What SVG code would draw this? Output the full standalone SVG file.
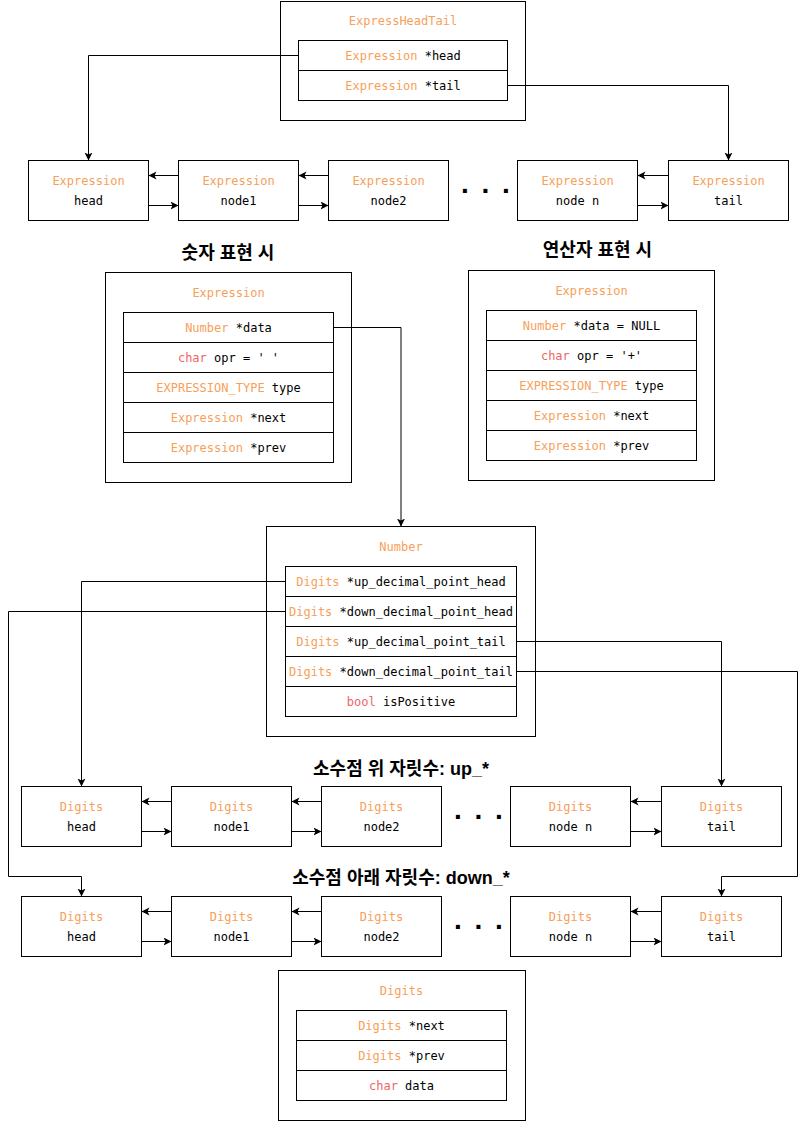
<svg xmlns="http://www.w3.org/2000/svg" width="806" height="1121" viewBox="0 0 806 1121">
<style>
rect{fill:#fff;stroke:#000;stroke-width:1}
.m{font-family:"DejaVu Sans Mono",monospace;font-size:12px;fill:#000;text-anchor:middle}
.o{fill:#F7A05A}
.r{fill:#EE6666}
.t{font-family:"Liberation Sans","Noto Sans CJK KR",sans-serif;font-size:18px;font-weight:bold;fill:#000;text-anchor:middle}
.d{font-family:"Liberation Sans",sans-serif;font-size:28px;font-weight:bold;letter-spacing:12.7px;fill:#000}
.c path{fill:none;stroke:#000;stroke-width:1;marker-end:url(#a)}
</style>
<defs>
<marker id="a" markerUnits="userSpaceOnUse" markerWidth="10" markerHeight="10" refX="8" refY="4" orient="auto">
<path d="M0,0 L8,4 L0,8 L2,4 z" fill="#000" stroke="none"/>
</marker>
</defs>

<g id="expressheadtail">
<rect x="280.5" y="1.5" width="245" height="119"/>
<text class="m" x="403" y="25"><tspan class="o">ExpressHeadTail</tspan></text>
<rect x="298.5" y="40.5" width="209" height="30"/>
<rect x="298.5" y="70.5" width="209" height="30"/>
<text class="m" x="403" y="60"><tspan class="o">Expression</tspan> *head</text>
<text class="m" x="403" y="90"><tspan class="o">Expression</tspan> *tail</text>
</g>

<g id="expr-head"><rect x="28.5" y="160.5" width="120" height="60"/><text class="m" x="88.5" y="185"><tspan class="o">Expression</tspan></text><text class="m" x="88.5" y="205">head</text></g>
<g id="expr-node1"><rect x="178.5" y="160.5" width="120" height="60"/><text class="m" x="238.5" y="185"><tspan class="o">Expression</tspan></text><text class="m" x="238.5" y="205">node1</text></g>
<g id="expr-node2"><rect x="328.5" y="160.5" width="120" height="60"/><text class="m" x="388.5" y="185"><tspan class="o">Expression</tspan></text><text class="m" x="388.5" y="205">node2</text></g>
<g id="expr-dots"><text class="d" x="461" y="193">...</text></g>
<g id="expr-noden"><rect x="517.5" y="160.5" width="120" height="60"/><text class="m" x="577.5" y="185"><tspan class="o">Expression</tspan></text><text class="m" x="577.5" y="205">node n</text></g>
<g id="expr-tail"><rect x="668.5" y="160.5" width="120" height="60"/><text class="m" x="728.5" y="185"><tspan class="o">Expression</tspan></text><text class="m" x="728.5" y="205">tail</text></g>

<g id="title-number"><text class="t" x="228" y="259">숫자 표현 시</text></g>
<g id="title-operator"><text class="t" x="597.5" y="256">연산자 표현 시</text></g>

<g id="expression-number">
<rect x="105.5" y="272.5" width="246" height="210"/>
<text class="m" x="228.5" y="297"><tspan class="o">Expression</tspan></text>
<rect x="123.5" y="312.5" width="210" height="30"/>
<rect x="123.5" y="342.5" width="210" height="30"/>
<rect x="123.5" y="372.5" width="210" height="30"/>
<rect x="123.5" y="402.5" width="210" height="30"/>
<rect x="123.5" y="432.5" width="210" height="30"/>
<text class="m" x="228.5" y="332"><tspan class="o">Number</tspan> *data</text>
<text class="m" x="228.5" y="362"><tspan class="r">char</tspan> opr = ' '</text>
<text class="m" x="228.5" y="392"><tspan class="o">EXPRESSION_TYPE</tspan> type</text>
<text class="m" x="228.5" y="422"><tspan class="o">Expression</tspan> *next</text>
<text class="m" x="228.5" y="452"><tspan class="o">Expression</tspan> *prev</text>
</g>

<g id="expression-operator">
<rect x="468.5" y="270.5" width="246" height="210"/>
<text class="m" x="591.5" y="295"><tspan class="o">Expression</tspan></text>
<rect x="486.5" y="310.5" width="210" height="30"/>
<rect x="486.5" y="340.5" width="210" height="30"/>
<rect x="486.5" y="370.5" width="210" height="30"/>
<rect x="486.5" y="400.5" width="210" height="30"/>
<rect x="486.5" y="430.5" width="210" height="30"/>
<text class="m" x="591.5" y="330"><tspan class="o">Number</tspan> *data = NULL</text>
<text class="m" x="591.5" y="360"><tspan class="r">char</tspan> opr = '+'</text>
<text class="m" x="591.5" y="390"><tspan class="o">EXPRESSION_TYPE</tspan> type</text>
<text class="m" x="591.5" y="420"><tspan class="o">Expression</tspan> *next</text>
<text class="m" x="591.5" y="450"><tspan class="o">Expression</tspan> *prev</text>
</g>

<g id="number">
<rect x="266.5" y="526.5" width="269" height="210"/>
<text class="m" x="401" y="551"><tspan class="o">Number</tspan></text>
<rect x="285.5" y="566.5" width="231" height="30"/>
<rect x="285.5" y="596.5" width="231" height="30"/>
<rect x="285.5" y="626.5" width="231" height="30"/>
<rect x="285.5" y="656.5" width="231" height="30"/>
<rect x="285.5" y="686.5" width="231" height="30"/>
<text class="m" x="401" y="586"><tspan class="o">Digits</tspan> *up_decimal_point_head</text>
<text class="m" x="401" y="616"><tspan class="o">Digits</tspan> *down_decimal_point_head</text>
<text class="m" x="401" y="646"><tspan class="o">Digits</tspan> *up_decimal_point_tail</text>
<text class="m" x="401" y="676"><tspan class="o">Digits</tspan> *down_decimal_point_tail</text>
<text class="m" x="401" y="706"><tspan class="r">bool</tspan> isPositive</text>
</g>

<g id="title-up"><text class="t" x="401" y="775">소수점 위 자릿수: up_*</text></g>
<g id="title-down"><text class="t" x="401" y="884">소수점 아래 자릿수: down_*</text></g>

<g id="up-head"><rect x="21.5" y="786.5" width="120" height="60"/><text class="m" x="81.5" y="811"><tspan class="o">Digits</tspan></text><text class="m" x="81.5" y="831">head</text></g>
<g id="up-node1"><rect x="171.5" y="786.5" width="120" height="60"/><text class="m" x="231.5" y="811"><tspan class="o">Digits</tspan></text><text class="m" x="231.5" y="831">node1</text></g>
<g id="up-node2"><rect x="321.5" y="786.5" width="120" height="60"/><text class="m" x="381.5" y="811"><tspan class="o">Digits</tspan></text><text class="m" x="381.5" y="831">node2</text></g>
<g id="up-dots"><text class="d" x="454" y="819">...</text></g>
<g id="up-noden"><rect x="510.5" y="786.5" width="120" height="60"/><text class="m" x="570.5" y="811"><tspan class="o">Digits</tspan></text><text class="m" x="570.5" y="831">node n</text></g>
<g id="up-tail"><rect x="661.5" y="786.5" width="120" height="60"/><text class="m" x="721.5" y="811"><tspan class="o">Digits</tspan></text><text class="m" x="721.5" y="831">tail</text></g>

<g id="down-head"><rect x="21.5" y="896.5" width="120" height="60"/><text class="m" x="81.5" y="921"><tspan class="o">Digits</tspan></text><text class="m" x="81.5" y="941">head</text></g>
<g id="down-node1"><rect x="171.5" y="896.5" width="120" height="60"/><text class="m" x="231.5" y="921"><tspan class="o">Digits</tspan></text><text class="m" x="231.5" y="941">node1</text></g>
<g id="down-node2"><rect x="321.5" y="896.5" width="120" height="60"/><text class="m" x="381.5" y="921"><tspan class="o">Digits</tspan></text><text class="m" x="381.5" y="941">node2</text></g>
<g id="down-dots"><text class="d" x="454" y="929">...</text></g>
<g id="down-noden"><rect x="510.5" y="896.5" width="120" height="60"/><text class="m" x="570.5" y="921"><tspan class="o">Digits</tspan></text><text class="m" x="570.5" y="941">node n</text></g>
<g id="down-tail"><rect x="661.5" y="896.5" width="120" height="60"/><text class="m" x="721.5" y="921"><tspan class="o">Digits</tspan></text><text class="m" x="721.5" y="941">tail</text></g>

<g id="digits">
<rect x="278.5" y="970.5" width="247" height="150"/>
<text class="m" x="401.5" y="995"><tspan class="o">Digits</tspan></text>
<rect x="296.5" y="1010.5" width="210" height="30"/>
<rect x="296.5" y="1040.5" width="210" height="30"/>
<rect x="296.5" y="1070.5" width="210" height="30"/>
<text class="m" x="401.5" y="1030"><tspan class="o">Digits</tspan> *next</text>
<text class="m" x="401.5" y="1060"><tspan class="o">Digits</tspan> *prev</text>
<text class="m" x="401.5" y="1090"><tspan class="r">char</tspan> data</text>
</g>

<g id="connectors" class="c">
<path d="M298.5,55.5 H88.5 V160.5"/>
<path d="M507.5,85.5 H728.5 V160.5"/>
<path d="M178.5,175.5 H148.5"/>
<path d="M328.5,175.5 H298.5"/>
<path d="M668.5,175.5 H637.5"/>
<path d="M148.5,205.5 H178.5"/>
<path d="M298.5,205.5 H328.5"/>
<path d="M637.5,205.5 H668.5"/>
<path d="M333.5,327.5 H401 V526.5"/>
<path d="M285.5,581.5 H81.5 V786.5"/>
<path d="M285.5,611.5 H8.5 V876.5 H81.5 V896.5"/>
<path d="M516.5,641.5 H721.5 V786.5"/>
<path d="M516.5,671.5 H797.5 V876.5 H721.5 V896.5"/>
<path d="M171.5,801.5 H141.5"/>
<path d="M321.5,801.5 H291.5"/>
<path d="M661.5,801.5 H630.5"/>
<path d="M141.5,831.5 H171.5"/>
<path d="M291.5,831.5 H321.5"/>
<path d="M630.5,831.5 H661.5"/>
<path d="M171.5,911.5 H141.5"/>
<path d="M321.5,911.5 H291.5"/>
<path d="M661.5,911.5 H630.5"/>
<path d="M141.5,941.5 H171.5"/>
<path d="M291.5,941.5 H321.5"/>
<path d="M630.5,941.5 H661.5"/>
</g>
</svg>
